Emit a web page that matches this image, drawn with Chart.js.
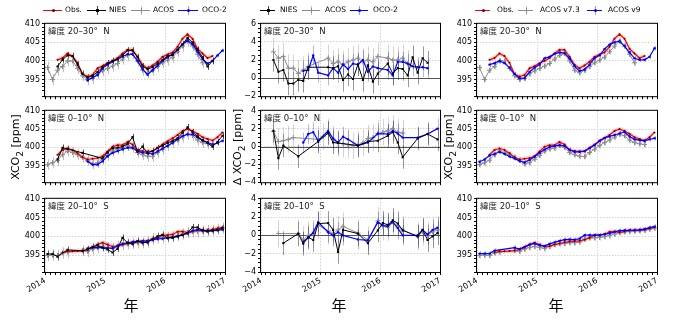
<!DOCTYPE html>
<html>
<head>
<meta charset="utf-8">
<script src="https://cdn.jsdelivr.net/npm/chart.js@4.4.1/dist/chart.umd.min.js"></script>
<style>
body { margin: 0; background: #fff; }
#fig { position: relative; width: 680px; height: 328px; overflow: hidden; font-family: "DejaVu Sans", "Noto Sans CJK JP", sans-serif; color: #000; }
#fig canvas { position: absolute; }
.lab { position: absolute; font-size: 8.5px; line-height: 1; white-space: pre; color: #222; }
.leg { position: absolute; font-size: 7.5px; line-height: 1; white-space: nowrap; }
.mk { position: absolute; }
.ytitle { position: absolute; font-size: 11px; white-space: nowrap; transform: translate(-50%, -50%) rotate(-90deg); }
.xtitle { position: absolute; font-size: 15px; line-height: 1; font-family: "Noto Sans CJK JP", sans-serif; transform: translateX(-50%); }
</style>
</head>
<body>
<div id="fig"></div>
<script>
// x axis: months since Jan 2014 (0..36), points sit mid-month
const YEARS = ['2014', '2015', '2016', '2017'];
const REGIONS = ['緯度 20–30°  N', '緯度 0–10°  N', '緯度 20–10°  S'];

// ---- 20-30N, XCO2 [ppm]
const obs_n2030 = [null, null, 400.3, 400.8, 402.0, 401.3, 399.5, 396.5, 395.8, 396.2, 398.0, 398.6,
    399.4, 400.0, 400.8, 402.0, 403.0, 403.0, 401.2, 399.0, 398.0, 398.8, 399.8, 401.1,
    401.7, 402.3, 403.8, 406.0, 407.2, 406.0, 403.3, 402.0, 400.8, 401.3, null, null];
const nies_n2030 = [null, null, 398.5, 400.3, 401.5, 401.3, 399.0, 396.5, 395.5, 396.0, 397.0, 398.3,
    399.3, 400.0, 400.4, 401.5, 402.8, 402.8, 401.0, 398.5, 397.8, 398.3, 399.3, 400.3,
    401.3, 401.6, 403.0, 404.5, 406.2, 405.0, 403.0, 401.0, 398.5, 400.0, null, null];
const acos_n2030 = [398.2, 395.0, 397.5, 398.5, 400.0, 400.0, 398.0, 396.0, 395.0, 395.3, 396.5, 397.3,
    398.0, 398.6, 399.3, 400.5, 401.5, 402.0, 400.0, 397.5, 396.8, 397.5, 398.5, 399.5,
    400.2, 401.0, 402.5, 404.0, 405.3, 404.0, 401.8, 399.5, null, null, null, null];
const oco2_n2030 = [null, null, null, null, null, null, null, null, 394.8, 395.5, 396.2, 398.0,
    399.0, 399.8, 400.5, 401.2, 401.8, 401.8, 400.0, 397.8, 396.3, 397.5, 398.7, 400.0,
    401.0, 401.8, 403.0, 404.5, 405.5, 404.5, 402.5, 400.5, 399.3, 400.0, 401.5, 402.8];
const acos9_n2030 = [null, null, 399.0, 399.4, 400.0, 399.4, 398.2, 396.5, 395.3, 395.4, 397.0, 398.2,
    399.0, 400.7, 401.1, 401.9, 402.3, 402.1, 400.7, 398.6, 397.3, 397.7, 399.0, 400.7,
    401.5, 403.2, 404.4, 405.0, 405.3, 404.0, 402.3, 400.7, 400.3, 400.3, 401.1, 403.4];

// ---- 0-10N
const obs_n010 = [null, null, 398.0, 399.3, 399.7, 399.3, 398.4, 397.3, 396.7, 396.9, 397.1, 397.6,
    398.9, 400.2, 400.6, 400.6, 401.5, 400.8, 399.3, 399.0, 398.9, 398.9, 399.9, 400.8,
    401.7, 402.5, 403.4, 404.5, 405.0, 404.5, 403.7, 402.8, 402.3, 401.9, 402.8, 404.1];
const nies_n010 = [null, null, 396.7, 399.9, 399.6, null, null, 398.5, null, null, null, 397.0,
    398.6, 399.8, 399.9, 400.2, 401.0, 402.8, 398.8, 400.2, 398.5, 399.0, 399.8, 400.5,
    401.2, 401.8, 402.5, 404.0, 405.5, 404.2, 403.0, 402.0, 401.2, 400.2, 401.5, 403.2];
const acos_n010 = [395.3, 395.8, 396.5, 398.0, 399.0, 398.6, 398.0, 397.3, 396.5, 395.5, 395.8, 396.8,
    397.8, 399.0, 399.6, 399.8, 400.5, 400.0, 398.6, 398.0, 397.6, 397.5, 398.6, 399.5,
    400.5, 401.3, 402.0, 402.8, 403.6, 403.2, 402.0, 401.3, 401.0, 400.8, null, null];
const oco2_n010 = [null, null, null, null, null, null, null, null, 396.2, 395.3, 395.3, 396.2,
    397.6, 398.5, 399.0, 399.5, 399.9, 399.9, 399.0, 398.6, 398.4, 398.2, 398.9, 399.7,
    400.4, 401.3, 402.2, 403.1, 403.6, 403.6, 402.8, 401.9, 401.4, 400.8, 401.2, 401.8];
const acos9_n010 = [396.1, 396.7, 397.8, 398.2, 398.8, 398.2, 397.5, 397.0, 396.3, 395.9, 396.6, 397.5,
    398.5, 399.4, 400.1, 400.4, 400.6, 400.4, 399.4, 398.8, 398.8, 399.0, 399.8, 400.6,
    401.8, 402.6, 403.0, 403.4, 403.8, 404.2, 403.0, 402.2, 402.0, 401.8, 402.2, 402.5];

// ---- 20-10S
const obs_s1020 = [null, null, null, 395.7, 396.0, 396.0, 396.1, 396.2, 396.5, 397.0, 397.8, 398.3,
    397.8, 397.3, 397.4, 397.8, 398.1, 398.4, 398.6, 398.7, 398.8, 399.1, 399.6, 400.3,
    400.3, 400.5, 401.2, 401.3, 401.0, 401.3, 401.6, 401.6, 401.6, 401.8, 402.1, 402.4];
const nies_s1020 = [395.3, 395.3, 394.6, null, 396.4, null, null, 396.1, 396.5, 397.2, 397.6, 397.0,
    396.5, 395.7, 396.7, 399.6, 398.3, 398.0, 398.7, 398.3, 398.4, 399.3, 400.0, 400.4,
    399.6, 399.6, 400.0, 400.4, 400.9, 402.4, 402.4, 401.6, 401.3, 401.6, 401.7, 402.2];
const acos_s1020 = [394.9, 395.0, 394.9, 395.6, 395.8, null, null, 396.2, 396.0, 396.6, 397.0, 397.3,
    397.0, 396.8, 397.3, 397.8, 398.0, 398.1, 398.3, 398.3, 398.5, 399.3, 399.6, 399.6,
    399.7, 399.9, 400.2, 400.6, 401.0, 401.2, 401.3, 401.4, 401.5, 401.6, 401.9, 402.2];
const oco2_s1020 = [null, null, null, null, null, null, null, null, 396.8, 397.0, 397.0, 397.0,
    396.9, 396.8, 397.5, 398.0, 398.3, 398.5, 398.7, 398.7, 398.8, 399.1, 399.3, 399.4,
    399.6, 399.8, 400.0, 400.4, 400.8, 401.5, 401.8, 401.6, 401.4, 401.5, 401.6, 401.8];
const acos9_s1020 = [395.4, 395.4, 395.4, 396.2, null, null, null, 397.0, 396.6, 397.2, 397.8, 398.1,
    397.6, 397.4, 398.0, 398.4, 398.8, 399.1, 399.2, 399.1, 399.4, 400.3, 400.3, 400.3,
    400.3, 400.6, 400.8, 401.2, 401.5, 401.6, 401.6, 401.6, 401.7, 401.9, 402.3, 402.6];

// ---- differences, delta XCO2 [ppm]
const dnies_n2030 = [null, null, 2.0, 0.7, 0.9, -0.6, -0.6, -0.2, -0.3, 1.2, null, null,
    null, 1.2, 1.1, 1.3, -0.2, 0.4, -0.1, 1.5, -0.2, 1.4, -0.4, 0.5,
    null, 1.6, 0.5, 1.1, 1.0, 0.3, 2.3, 0.6, 2.2, 1.7, null, null];
const dacos_n2030 = [null, null, 2.9, 2.2, 2.4, 1.1, 1.1, 0.5, 0.9, 1.3, null, null,
    null, 2.2, 1.6, 1.8, 1.5, 1.8, 2.0, 2.2, 1.8, 2.0, 1.8, 2.4,
    null, 2.2, 2.0, 2.0, 2.2, 1.6, null, null, null, null, null, null];
const doco2_n2030 = [null, null, null, null, null, null, null, null, 0.8, 0.9, 2.5, 0.6,
    null, 0.3, 1.1, 0.6, 1.5, 1.0, 1.6, 1.5, 2.0, 0.7, 1.3, 1.1,
    null, 0.9, 0.3, 1.8, 1.8, 1.6, 1.3, 1.2, 1.2, 1.1, null, null];

const dnies_n010 = [null, null, 1.75, -1.3, 0.1, null, null, -1.1, null, null, null, 0.55,
    null, 1.5, 0.45, 0.4, null, null, null, 0.1, null, 0.55, null, 0.65,
    null, 1.2, 1.6, 0.45, -1.2, null, null, 0.9, null, 1.4, null, 0.8];
const dacos_n010 = [null, null, 1.7, 0.55, 0.65, 0.8, 1.0, null, null, null, null, 0.8,
    1.1, 1.6, 0.8, 0.35, 0.3, 0.2, 0.1, 0.2, 0.4, 0.9, 1.0, 1.45,
    1.6, 1.75, 2.0, 1.6, 1.5, null, null, null, null, null, null, null];
const doco2_n010 = [null, null, null, null, null, null, null, null, 0.45, 1.4, 1.6, 0.65,
    null, 1.75, 0.9, 0.45, 1.1, 0.8, null, 0.1, null, 0.45, null, 1.45,
    null, 1.4, 1.75, 1.45, 1.0, null, null, 1.0, null, 1.4, null, 2.0];

const dnies_s1020 = [null, null, null, null, -0.85, null, null, 0.2, -0.9, -0.2, -0.5, 1.3,
    null, 1.35, 0.6, -1.8, 0.6, null, null, 0.2, null, -0.85, null, 0.55,
    1.35, 1.15, 1.65, 1.3, 0.55, null, null, -0.1, 0.6, -0.5, -0.1, 0.25];
const dacos_s1020 = [null, null, null, 0.2, null, null, null, 0.2, -0.5, 0.0, 0.2, 1.1,
    null, 0.5, 0.2, 0.6, 1.0, null, null, 0.25, null, -0.5, null, 1.6,
    1.0, 0.9, 1.5, 1.0, 0.6, null, null, -0.1, 0.4, 0.0, 0.4, 0.6];
const doco2_s1020 = [null, null, null, null, null, null, null, null, -0.7, -0.25, 0.3, 1.45,
    null, 0.35, 0.0, 0.35, 0.0, null, null, -0.45, null, -0.55, null, 1.45,
    1.1, 1.0, 1.45, 0.8, 0.0, null, null, 0.0, 0.6, 0.1, 0.6, 0.85];

// uncertainty estimates (ppm), read off the bars/band
const OBS_SPREAD = 0.6;
const ERR = {
    c1: { nies: 0.9, acos: 1.5, oco2: 0.5 },
    c2: { nies: 1.3, acos: 1.5, oco2: 1.1 },
    c3: { acos: 0.8, acos9: 0.6 }
};

const FONT = '"DejaVu Sans", "Noto Sans CJK JP", sans-serif';
const COLS = [[45, 225], [261, 440], [477, 657]];
const ROWS = [[23, 97], [110, 183], [198, 272]];
const fig = document.getElementById('fig');

function pts(vals, shift) {
    const out = [];
    vals.forEach((v, i) => { if (v !== null) out.push({ x: i + 0.5, y: shift ? v + shift : v }); });
    return out;
}

const STY = {
    obs: { borderColor: '#ff0000', borderWidth: 1.2, pointStyle: 'circle', pointRadius: 1, pointBackgroundColor: '#700000', pointBorderWidth: 0, order: 3 },
    nies: { borderColor: '#000000', borderWidth: 1, pointStyle: 'rect', pointRadius: 1.5, pointBackgroundColor: '#000', pointBorderWidth: 0, order: 1, errColor: 'rgba(0,0,0,0.7)' },
    acos: { borderColor: '#8c8c8c', borderWidth: 1, pointStyle: 'cross', pointRadius: 2.5, pointBorderColor: '#8c8c8c', pointBorderWidth: 1, order: 4, errColor: 'rgba(128,128,128,0.5)' },
    oco2: { borderColor: '#0000ff', borderWidth: 1.2, pointStyle: 'circle', pointRadius: 1.2, pointBackgroundColor: '#0000ff', pointBorderWidth: 0, order: 2, errColor: 'rgba(0,0,255,0.4)' }
};

function line(kind, vals, err, errColor) {
    const ds = Object.assign({ data: pts(vals), tension: 0, fill: false, err: err || 0 }, STY[kind]);
    if (errColor) ds.errColor = errColor;
    return ds;
}

function band(vals) {
    return [
        { data: pts(vals, -OBS_SPREAD), borderWidth: 0, pointRadius: 0, fill: false, order: 6 },
        { data: pts(vals, OBS_SPREAD), borderWidth: 0, pointRadius: 0, fill: '-1', backgroundColor: 'rgba(255,0,0,0.18)', order: 5 }
    ];
}

const errorBars = {
    id: 'errorBars',
    beforeDatasetsDraw(chart) {
        const { ctx, chartArea: a, scales: { x, y } } = chart;
        ctx.save();
        ctx.beginPath();
        ctx.rect(a.left, a.top, a.width, a.height);
        ctx.clip();
        chart.data.datasets.forEach(ds => {
            if (!ds.err) return;
            ctx.strokeStyle = ds.errColor;
            ctx.lineWidth = 1;
            ds.data.forEach(p => {
                const px = Math.round(x.getPixelForValue(p.x)) + 0.5;
                ctx.beginPath();
                ctx.moveTo(px, y.getPixelForValue(p.y - ds.err));
                ctx.lineTo(px, y.getPixelForValue(p.y + ds.err));
                ctx.stroke();
            });
        });
        ctx.restore();
    }
};

const zeroLine = {
    id: 'zeroLine',
    beforeDatasetsDraw(chart, args, opts) {
        if (!opts.show) return;
        const { ctx, chartArea: a, scales: { y } } = chart;
        const py = Math.round(y.getPixelForValue(0)) + 0.5;
        ctx.save();
        ctx.strokeStyle = '#555';
        ctx.lineWidth = 1;
        ctx.beginPath();
        ctx.moveTo(a.left, py);
        ctx.lineTo(a.right, py);
        ctx.stroke();
        ctx.restore();
    }
};

const frame = {
    id: 'frame',
    afterDraw(chart) {
        const { ctx, chartArea: a } = chart;
        ctx.save();
        ctx.strokeStyle = '#000';
        ctx.lineWidth = 1;
        ctx.strokeRect(a.left - 0.5, a.top - 0.5, a.width + 1, a.height + 1);
        ctx.restore();
    }
};

function fmt(v) {
    return v < 0 ? '\u2212' + (-v) : String(v);
}

function panel(col, row, datasets, yr) {
    const [l, r] = COLS[col], [t, b] = ROWS[row];
    const LM = 40, TM = 6, RM = 8, BM = row === 2 ? 40 : 6;
    const W = r - l + LM + RM, H = b - t + TM + BM;
    const cv = document.createElement('canvas');
    cv.width = W; cv.height = H;
    cv.style.left = (l - LM) + 'px';
    cv.style.top = (t - TM) + 'px';
    cv.style.width = W + 'px';
    cv.style.height = H + 'px';
    fig.appendChild(cv);

    new Chart(cv, {
        type: 'line',
        data: { datasets: datasets },
        options: {
            responsive: false,
            animation: false,
            devicePixelRatio: 1,
            layout: { padding: { top: TM, right: RM, left: 0, bottom: 0 } },
            plugins: { legend: { display: false }, tooltip: { enabled: false }, zeroLine: { show: !!yr.zero } },
            scales: {
                x: {
                    type: 'linear', min: 0, max: 36,
                    ticks: {
                        stepSize: 1, autoSkip: false, display: row === 2, minRotation: 30, maxRotation: 30, padding: 1,
                        color: '#000', font: { family: FONT, size: 8 },
                        callback: v => (v % 12 === 0 ? YEARS[v / 12] : '')
                    },
                    grid: {
                        color: c => (c.tick && c.tick.value % 12 === 0 ? '#d2d2d2' : 'rgba(0,0,0,0)'),
                        tickColor: '#000', tickLength: 3, lineWidth: 1
                    },
                    border: { display: false, dash: [1.5, 1.5] },
                    afterFit: s => { s.height = BM; }
                },
                y: {
                    min: yr.min, max: yr.max,
                    ticks: {
                        stepSize: yr.step, autoSkip: false, padding: 2,
                        color: '#000', font: { family: FONT, size: 8 },
                        callback: v => (v % yr.every === 0 ? fmt(v) : '')
                    },
                    grid: {
                        color: c => (c.tick && c.tick.value % yr.every === 0 ? '#d2d2d2' : 'rgba(0,0,0,0)'),
                        tickColor: '#000', tickLength: 3, lineWidth: 1
                    },
                    border: { display: false, dash: [1.5, 1.5] },
                    afterFit: s => { s.width = LM; }
                }
            }
        },
        plugins: [zeroLine, errorBars, frame]
    });

    const lab = document.createElement('div');
    lab.className = 'lab';
    lab.style.left = (l + 3) + 'px';
    lab.style.top = (t + 4) + 'px';
    lab.textContent = REGIONS[row];
    fig.appendChild(lab);
}

const YPPM = { min: 390.5, max: 410, step: 1, every: 5 };
const YD1 = { min: -2, max: 6, step: 0.5, every: 2, zero: true };
const YD = { min: -4, max: 4, step: 0.5, every: 2, zero: true };

const rows = [
    [obs_n2030, nies_n2030, acos_n2030, oco2_n2030, acos9_n2030, dnies_n2030, dacos_n2030, doco2_n2030, YD1],
    [obs_n010, nies_n010, acos_n010, oco2_n010, acos9_n010, dnies_n010, dacos_n010, doco2_n010, YD],
    [obs_s1020, nies_s1020, acos_s1020, oco2_s1020, acos9_s1020, dnies_s1020, dacos_s1020, doco2_s1020, YD]
];

rows.forEach((d, row) => {
    const [obs, nies, acos, oco2, acos9, dn, da, dox, yd] = d;
    panel(0, row, [...band(obs), line('obs', obs), line('nies', nies, ERR.c1.nies), line('acos', acos, ERR.c1.acos), line('oco2', oco2, ERR.c1.oco2)], YPPM);
    panel(1, row, [line('nies', dn, ERR.c2.nies, 'rgba(0,0,0,0.4)'), line('acos', da, ERR.c2.acos, 'rgba(128,128,128,0.35)'), line('oco2', dox, ERR.c2.oco2, 'rgba(0,0,255,0.3)')], yd);
    panel(2, row, [...band(obs), line('obs', obs), line('acos', acos, ERR.c3.acos), line('oco2', acos9, ERR.c3.acos9)], YPPM);
});

// legends (html)
function legend(items) {
    items.forEach(it => {
        const c = STY[it.kind].borderColor;
        const ln = document.createElement('div');
        ln.className = 'mk';
        ln.style.cssText = `left:${it.l}px;top:10px;width:${it.r - it.l}px;height:1px;background:${c};`;
        fig.appendChild(ln);
        const cx = Math.round((it.l + it.r) / 2);
        if (it.kind !== 'obs') {
            const eb = document.createElement('div');
            eb.className = 'mk';
            eb.style.cssText = `left:${cx}px;top:6px;width:1px;height:9px;background:${STY[it.kind].errColor};`;
            fig.appendChild(eb);
        }
        const m = document.createElement('div');
        m.className = 'mk';
        if (it.kind === 'acos') {
            m.style.cssText = `left:${cx - 2}px;top:8px;width:5px;height:5px;background:linear-gradient(${c},${c}) center/5px 1px no-repeat,linear-gradient(${c},${c}) center/1px 5px no-repeat;`;
        } else if (it.kind === 'nies') {
            m.style.cssText = `left:${cx - 1}px;top:9px;width:3px;height:3px;background:#000;`;
        } else {
            const mc = it.kind === 'obs' ? '#700000' : '#0000ff';
            m.style.cssText = `left:${cx - 1}px;top:9px;width:3px;height:3px;border-radius:50%;background:${mc};`;
        }
        fig.appendChild(m);
        const tx = document.createElement('div');
        tx.className = 'leg';
        tx.style.left = it.t + 'px';
        tx.style.top = '6px';
        tx.textContent = it.text;
        fig.appendChild(tx);
    });
}

legend([
    { kind: 'obs', l: 43, r: 62, t: 65, text: 'Obs.' },
    { kind: 'nies', l: 87, r: 106, t: 109, text: 'NIES' },
    { kind: 'acos', l: 131, r: 150, t: 153, text: 'ACOS' },
    { kind: 'oco2', l: 178, r: 198, t: 202, text: 'OCO-2' }
]);
legend([
    { kind: 'nies', l: 260, r: 275, t: 280, text: 'NIES' },
    { kind: 'acos', l: 302, r: 320, t: 325, text: 'ACOS' },
    { kind: 'oco2', l: 350, r: 368, t: 373, text: 'OCO-2' }
]);
legend([
    { kind: 'obs', l: 475, r: 490, t: 497, text: 'Obs.' },
    { kind: 'acos', l: 518, r: 533, t: 540, text: 'ACOS v7.3' },
    { kind: 'oco2', l: 587, r: 602, t: 608, text: 'ACOS v9' }
]);

// axis titles
[[17, 'XCO<sub>2</sub> [ppm]'], [239, 'Δ XCO<sub>2</sub> [ppm]'], [450, 'XCO<sub>2</sub> [ppm]']].forEach(([x, html]) => {
    const d = document.createElement('div');
    d.className = 'ytitle';
    d.style.left = x + 'px';
    d.style.top = '147px';
    d.innerHTML = html;
    fig.appendChild(d);
});
[131, 339, 556].forEach(x => {
    const d = document.createElement('div');
    d.className = 'xtitle';
    d.style.left = x + 'px';
    d.style.top = '297px';
    d.textContent = '年';
    fig.appendChild(d);
});
</script>
</body>
</html>
